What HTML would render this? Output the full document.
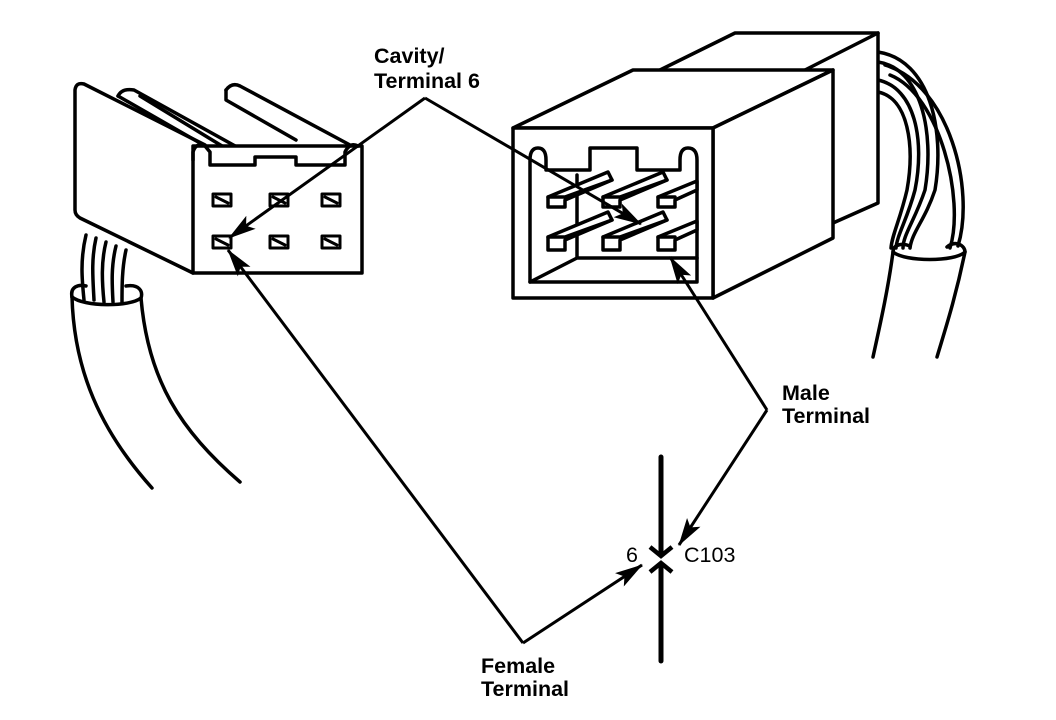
<!DOCTYPE html>
<html><head><meta charset="utf-8"><style>
html,body{margin:0;padding:0;background:#fff;}
svg{display:block;}
.b{font-family:"Liberation Sans",Arial,sans-serif;font-weight:bold;font-size:21.5px;fill:#000;}
.n{font-family:"Liberation Sans",Arial,sans-serif;font-size:21.5px;fill:#000;}
</style></head><body>
<svg width="1056" height="720" viewBox="0 0 1056 720" xmlns="http://www.w3.org/2000/svg">
<defs>
<marker id="ah" viewBox="0 0 28 16" refX="27" refY="8" markerWidth="28" markerHeight="16" markerUnits="userSpaceOnUse" orient="auto">
<path d="M0,0 L28,8 L0,16 L6,8 Z" fill="#000"/>
</marker>
</defs>
<g fill="none" stroke="#000" stroke-width="3.5" stroke-linejoin="round" stroke-linecap="round">
<!-- Left cable -->
<path d="M86,235 C80,260 82,280 84,300"/>
<path d="M96,238 C91,260 93,280 94,300"/>
<path d="M106,242 C101,262 102,282 104,302"/>
<path d="M116,246 C111,266 112,284 113,302"/>
<path d="M126,250 C122,268 122,286 122,302"/>
<path d="M72,297 C70,287 78,284 86,286"/>
<path d="M126,286 C140,284 143,292 141,298 C130,307 84,307 72,297"/>
<path d="M72,297 C74,370 100,430 152,488"/>
<path d="M141,298 C148,380 180,430 240,482"/>
<!-- Left connector side -->
<path d="M193,273 L80,218 Q75,215 75,210 L75,90 Q76,82 84,84 L205,145" fill="#fff"/>
<!-- top rails -->
<path d="M118,96 Q122,88 134,90 L255,157"/>
<path d="M118,96 L200,143"/>
<path d="M140,96 L245,160"/>
<path d="M226,90 Q232,82 240,86 L350,145"/>
<path d="M226,90 L226,100 L296,140"/>
<!-- front face -->
<rect x="193" y="146" width="169" height="127" fill="#fff"/>
<path d="M193,160 L193,152 Q196,142 205,146 L210,152 L210,165 L255,165 L255,157 L296,157 L296,165 L345,165 L345,152 Q350,142 358,146"/>
<g stroke-width="3">
<rect x="213" y="194" width="18" height="12"/><rect x="270" y="194" width="18" height="12"/><rect x="322" y="194" width="18" height="12"/>
<rect x="213" y="236" width="18" height="12"/><rect x="270" y="236" width="18" height="12"/><rect x="322" y="236" width="18" height="12"/>
<path d="M216,197 L228,203 M273,197 L285,203 M325,197 L337,203 M216,239 L228,245 M273,239 L285,245 M325,239 L337,245"/>
</g>
<!-- Right cable -->
<path d="M878,52 C930,60 945,130 935,190 C925,220 912,232 910,248"/>
<path d="M878,62 C920,68 935,130 925,190 C915,220 903,235 903,248"/>
<path d="M878,80 C915,88 925,140 915,190 C907,220 897,235 896,248"/>
<path d="M878,92 C908,98 915,145 907,190 C900,220 892,235 891,248"/>
<path d="M890,75 C940,95 965,200 950,248"/>
<path d="M885,65 C950,85 975,190 958,246"/>
<path d="M893,252 C893,244 903,243 910,246 M947,247 C955,240 965,245 965,252 C955,262 905,262 893,252"/>
<path d="M893,252 C888,290 880,325 873,357"/>
<path d="M965,252 C955,300 945,330 937,357"/>
<!-- Right connector back box -->
<path d="M660,70 L735,33 L878,33 L878,203 L833,223" fill="#fff"/>
<path d="M805,70 L878,33"/>
<path d="M513,128 L633,70 L833,70 L713,128 Z" fill="#fff"/>
<path d="M713,128 L833,70 L833,238 L713,298 Z" fill="#fff"/>
<rect x="513" y="128" width="200" height="170" fill="#fff"/>
<path d="M530,282 L530,160 Q530,148 538,148 Q546,148 546,160 L546,170 L590,170 L590,148 L637,148 L637,170 L680,170 L680,160 Q680,148 688,148 Q697,148 697,160 L697,282 Z"/>
<path d="M530,282 L577,258 L697,258 M577,258 L577,175"/>
<g fill="#fff">
<path d="M548,197 L608,172 L612,180 L565,200 L565,207 L548,207 Z"/>
<path d="M603,197 L663,172 L667,180 L620,200 L620,207 L603,207 Z"/>
<path d="M658,197 L697,181 L697,190 L675,200 L675,207 L658,207 Z"/>
<path d="M548,237 L608,212 L612,220 L565,240 L565,250 L548,250 Z"/>
<path d="M603,237 L663,212 L667,220 L620,240 L620,250 L603,250 Z"/>
<path d="M658,237 L697,221 L697,230 L675,240 L675,250 L658,250 Z"/>
</g>
<path d="M548,197 L565,197 M603,197 L620,197 M658,197 L675,197 M548,237 L565,237 M603,237 L620,237 M658,237 L675,237 M565,197 L612,180 M620,197 L667,180 M565,237 L612,220 M620,237 L667,220"/>
</g>
<!-- Leaders -->
<g fill="none" stroke="#000" stroke-width="3">
<path d="M425,98 L229,238" marker-end="url(#ah)"/>
<path d="M425,98 L641,224" marker-end="url(#ah)"/>
<path d="M523,643 L228,250" marker-end="url(#ah)"/>
<path d="M523,643 L642,565" marker-end="url(#ah)"/>
<path d="M767,410 L670,257" marker-end="url(#ah)"/>
<path d="M767,410 L679,545" marker-end="url(#ah)"/>
</g>
<!-- symbol -->
<g fill="none" stroke="#000" stroke-width="5" stroke-linecap="round">
<path d="M661,457 L661,552"/>
<path d="M661,568 L661,661"/>
<path d="M650,547 L661,556 L672,547" stroke-width="4.5" stroke-linecap="butt"/>
<path d="M650,572 L661,563 L672,572" stroke-width="4.5" stroke-linecap="butt"/>
</g>
<text class="b" x="374" y="63">Cavity/</text>
<text class="b" x="374" y="88">Terminal 6</text>
<text class="b" x="782" y="400">Male</text>
<text class="b" x="782" y="423">Terminal</text>
<text class="b" x="481" y="673">Female</text>
<text class="b" x="481" y="696">Terminal</text>
<text class="n" x="626" y="562">6</text>
<text class="n" x="684" y="562">C103</text>
</svg>
</body></html>
